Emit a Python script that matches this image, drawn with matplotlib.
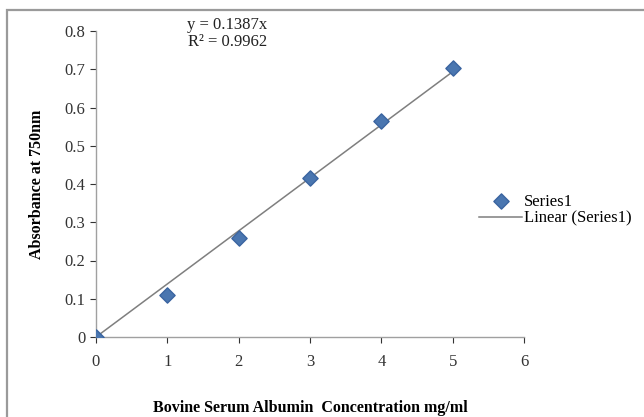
import matplotlib.pyplot as plt
from matplotlib.patches import Rectangle
import numpy as np

# BSA standard curve
concentration = [0, 1, 2, 3, 4, 5]
absorbance = [0.0, 0.11, 0.26, 0.415, 0.565, 0.703]
slope = 0.1387
r_squared = 0.9962

x_ticks = [0, 1, 2, 3, 4, 5, 6]
y_ticks = [0, 0.1, 0.2, 0.3, 0.4, 0.5, 0.6, 0.7, 0.8]

plt.rcParams['font.family'] = ['Liberation Serif', 'DejaVu Serif']

fig = plt.figure(figsize=(6.44, 4.17), dpi=100)
ax = fig.add_axes([96 / 644, 1 - 337 / 417, 428 / 644, 306 / 417])

# chart frame (top and left edges visible)
fig.patches.append(Rectangle((7 / 644, -0.1), 1.2, 1 - 10 / 417 + 0.1,
                             transform=fig.transFigure, fill=False,
                             edgecolor='#9a9a9a', linewidth=1.6))

ax.scatter(concentration, absorbance, marker='D', s=60, color='#4a76b0',
           edgecolors='#3a64a0', zorder=3, label='Series1')
fit_x = np.array([concentration[0], concentration[-1]])
ax.plot(fit_x, slope * fit_x, color='#7f7f7f', linewidth=1.1, zorder=2,
        label='Linear (Series1)')

ax.set_xlim(0, 6)
ax.set_ylim(0, 0.8)
ax.set_xticks(x_ticks)
ax.set_yticks(y_ticks)
ax.set_xticklabels([str(t) for t in x_ticks])
ax.set_yticklabels(['0'] + [f'{t:.1f}' for t in y_ticks[1:]])
ax.tick_params(labelsize=12, colors='#333333', length=4, width=0.8)
ax.tick_params(axis='x', pad=8)
for side in ['top', 'right']:
    ax.spines[side].set_visible(False)
for side in ['left', 'bottom']:
    ax.spines[side].set_color('#a0a0a0')
    ax.spines[side].set_linewidth(1.0)

ax.set_xlabel('Bovine Serum Albumin  Concentration mg/ml', fontsize=11.5,
              fontweight='bold', labelpad=22)
ax.set_ylabel('Absorbance at 750nm', fontsize=11.5, fontweight='bold', labelpad=14)

# trendline equation
ax.text(1.84, 0.793, f'y = {slope}x\nR² = {r_squared}', fontsize=12,
        ha='center', va='center', linespacing=1.05, color='#222222',
        clip_on=False)

ax.legend(loc='center left', bbox_to_anchor=(0.86, 0.415), frameon=False,
          fontsize=12, handlelength=2.6, handletextpad=0.1, labelspacing=0.05)

fig.savefig('out.png', dpi=100)
